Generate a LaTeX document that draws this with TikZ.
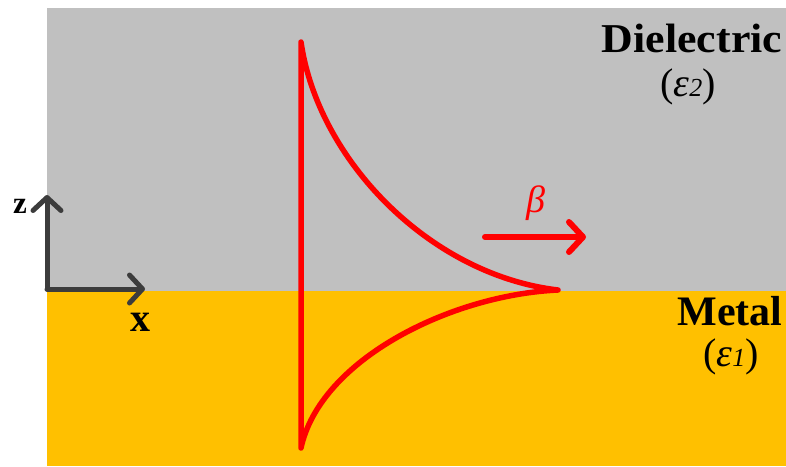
\documentclass[tikz,border=0pt]{standalone}
\usepackage{fontspec}
\setmainfont{Liberation Serif}
\usetikzlibrary{arrows.meta}
\definecolor{diel}{HTML}{C0C0C0}
\definecolor{metal}{HTML}{FFC000}
\definecolor{axisc}{HTML}{3C3C3C}
\definecolor{wave}{HTML}{FF0000}
\begin{document}
\begin{tikzpicture}[x=1pt,y=-1pt,
  axisarrow/.style={draw=axisc,line width=5pt,line cap=round,line join=round,
    -{Straight Barb[length=13pt,width=28pt,line width=5pt,round]}},
  betaarrow/.style={draw=wave,line width=6pt,line cap=round,
    -{Straight Barb[length=14pt,width=30pt,line width=6pt,round]}},
  wavecurve/.style={draw=wave,line width=5.5pt,line join=round,line cap=round},
  boldlabel/.style={inner sep=0pt,font=\bfseries},
  epslabel/.style={inner sep=0pt}]
\useasboundingbox (0,0) rectangle (786,466);
% regions
\fill[diel] (47,8) rectangle (786,291);
\fill[metal] (47,291) rectangle (786,466);
% field profile
\coordinate (tip) at (558,290);
\coordinate (top) at (301,42);
\coordinate (bot) at (301,448);
\draw[wavecurve] (tip) .. controls (430,275) and (318,160) .. (top)
  -- (bot) .. controls (320,360) and (450,295) .. (tip);
% axes
\coordinate (o) at (47,289);
\coordinate (zt) at (47,195);
\coordinate (xt) at (145,289);
\draw[axisarrow] (o) -- (zt);
\draw[axisarrow] (o) -- (xt);
\node[boldlabel,font=\bfseries\fontsize{31}{31}\selectfont] (zl) at (20,206) {z};
\node[boldlabel,font=\bfseries\fontsize{40}{40}\selectfont] (xl) at (140,322) {x};
% propagation
\coordinate (bs) at (485,237);
\coordinate (be) at (586,237);
\draw[betaarrow] (bs) -- (be);
\node[inner sep=0pt,text=wave,font=\itshape\fontsize{38}{38}\selectfont] (bl) at (536,203) {β};
% labels
\node[boldlabel,font=\bfseries\fontsize{41}{41}\selectfont,xscale=1.07,anchor=base] (dl) at (692,52) {Dielectric};
\node[epslabel,font=\fontsize{40}{40}\selectfont,anchor=base] (e2) at (688,96) {(\textit{ε}{\fontsize{26}{26}\selectfont\textit{2}})};
\node[boldlabel,font=\bfseries\fontsize{42}{42}\selectfont,anchor=base] (ml) at (730,325) {Metal};
\node[epslabel,font=\fontsize{40}{40}\selectfont,anchor=base] (e1) at (731,366) {(\textit{ε}{\fontsize{26}{26}\selectfont\textit{1}})};
\end{tikzpicture}
\end{document}
